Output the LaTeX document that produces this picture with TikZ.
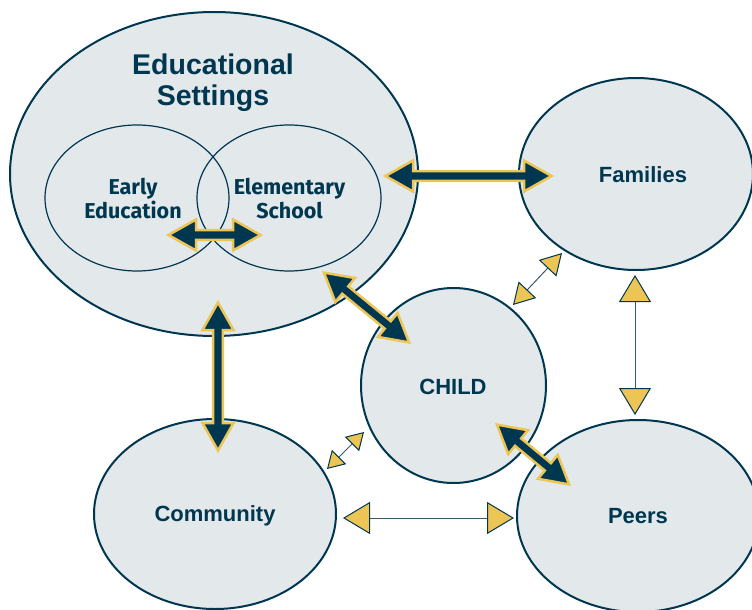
\documentclass[tikz,border=0pt]{standalone}
\usepackage{fontspec}
\setmainfont{Liberation Sans}
\newfontfamily\innerfont{Fira Sans}
\usetikzlibrary{arrows.meta,calc,shapes.geometric}
\definecolor{navy}{RGB}{0,55,80}
\definecolor{gold}{RGB}{236,197,85}
\definecolor{pale}{RGB}{227,232,235}
\definecolor{slate}{RGB}{55,90,110}
\tikzset{
  bubble/.style={ellipse, draw=navy, line width=2pt, fill=pale, inner sep=0pt},
  innerbubble/.style={ellipse, draw=navy, line width=1.2pt, inner sep=0pt},
  bigtext/.style={text=navy, font=\bfseries\fontsize{22}{24}\selectfont, align=center, inner sep=0pt},
  titletext/.style={text=navy, font=\bfseries\fontsize{28.5}{31}\selectfont, align=center, inner sep=0pt},
  smalltext/.style={text=navy, font=\innerfont\bfseries\fontsize{21.5}{24}\selectfont, align=center, inner sep=0pt},
  fatarrow/.style={draw=gold, fill=navy, line width=2.5pt, line join=miter},
  bigtri/.style={{Triangle[length=27pt,width=32pt,color=navy,fill=gold,line width=1pt]}-{Triangle[length=27pt,width=32pt,color=navy,fill=gold,line width=1pt]}},
  midtri/.style={{Triangle[length=21pt,width=24pt,color=navy,fill=gold,line width=1pt]}-{Triangle[length=21pt,width=24pt,color=navy,fill=gold,line width=1pt]}},
  smalltri/.style={{Triangle[length=17pt,width=20pt,color=navy,fill=gold,line width=1pt]}-{Triangle[length=17pt,width=20pt,color=navy,fill=gold,line width=1pt]}},
  thinlink/.style={draw=slate, line width=1pt},
}
\newcommand\fatarrowdraw[2]{%
  \path let \p1=(#1), \p2=(#2) in \pgfextra{%
    \pgfmathsetmacro\faang{atan2(\y2-\y1,\x2-\x1)}%
    \pgfmathsetmacro\falen{veclen(\x2-\x1,\y2-\y1)}%
    \xdef\faang{\faang}\xdef\falen{\falen}\xdef\fax{\x1}\xdef\fay{\y1}};
  \begin{scope}[shift={(\fax,\fay)}, rotate=\faang]
    \filldraw[fatarrow] (2.5pt,0pt) -- (30pt,15.5pt) -- (30pt,4.8pt) -- (\falen pt-30pt,4.8pt)
      -- (\falen pt-30pt,15.5pt) -- (\falen pt-2.5pt,0pt) -- (\falen pt-30pt,-15.5pt)
      -- (\falen pt-30pt,-4.8pt) -- (30pt,-4.8pt) -- (30pt,-15.5pt) -- cycle;
  \end{scope}}
\begin{document}
\begin{tikzpicture}[x=1pt,y=-1pt]
\useasboundingbox (0,0) rectangle (752,610);
% main bubbles
\node[bubble, minimum width=408pt, minimum height=324pt] (edu) at (214,174) {};
\node[bubble, minimum width=234pt, minimum height=192pt] (fam) at (636,174) {};
\node[bubble, minimum width=185pt, minimum height=195pt] (child) at (453.5,385.5) {};
\node[bubble, minimum width=242pt, minimum height=190pt] (com) at (215,514) {};
\node[bubble, minimum width=242pt, minimum height=192pt] (peer) at (638,516) {};
% inner bubbles
\node[innerbubble, minimum width=184pt, minimum height=146pt] (early) at (137,198) {};
\node[innerbubble, minimum width=184pt, minimum height=146pt] (elem) at (289,198) {};
% texts
\node[titletext] (edut) at (213,83) {Educational\\Settings};
\node[smalltext] (earlyt) at (133,199) {Early\\Education};
\node[smalltext] (elemt) at (289.5,199) {Elementary\\School};
\node[bigtext] (famt) at (643,175) {Families};
\node[bigtext] (childt) at (453,387) {CHILD};
\node[bigtext] (comt) at (215,516) {Community};
\node[bigtext] (peert) at (638,516) {Peers};
% fat arrow end points
\coordinate (a1s) at (383,176); \coordinate (a1e) at (554,176);
\coordinate (a2s) at (166,235); \coordinate (a2e) at (263,235);
\coordinate (a3s) at (322,271); \coordinate (a3e) at (411,344);
\coordinate (a4s) at (218,300); \coordinate (a4e) at (218,453);
\coordinate (a5s) at (495,423); \coordinate (a5e) at (571,486);
\fatarrowdraw{a1s}{a1e}
\fatarrowdraw{a2s}{a2e}
\fatarrowdraw{a3s}{a3e}
\fatarrowdraw{a4s}{a4e}
\fatarrowdraw{a5s}{a5e}
% thin arrows
\coordinate (t1s) at (562,253); \coordinate (t1e) at (513,305);
\coordinate (t2s) at (635,275); \coordinate (t2e) at (635,415);
\coordinate (t3s) at (364,432); \coordinate (t3e) at (327,469);
\coordinate (t4s) at (343,518); \coordinate (t4e) at (514,518);
\draw[thinlink, midtri] (t1s) -- (t1e);
\draw[thinlink, bigtri] (t2s) -- (t2e);
\draw[thinlink, smalltri] (t3s) -- (t3e);
\draw[thinlink, bigtri] (t4s) -- (t4e);
\end{tikzpicture}
\end{document}
